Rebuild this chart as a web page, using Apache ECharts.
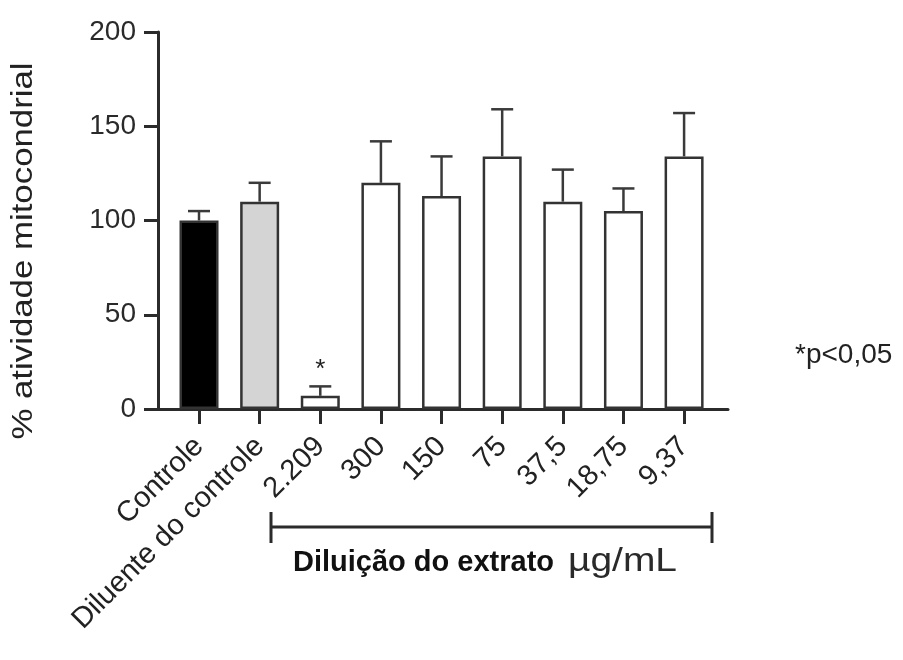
<!DOCTYPE html>
<html>
<head>
<meta charset="utf-8">
<script src="https://cdn.jsdelivr.net/npm/echarts@6/dist/echarts.min.js"></script>
<style>
  html, body { margin: 0; padding: 0; background: #ffffff; }
  #chart { width: 903px; height: 660px; }
</style>
</head>
<body>
<div id="chart"></div>
<script>
// Mitochondrial activity (%) per treatment group, mean with upper SD bar
const categories = ['Controle', 'Diluente do controle', '2.209', '300', '150', '75', '37,5', '18,75', '9,37'];
const means = [100, 110, 7, 120, 113, 134, 110, 105, 134];
const errors = [5, 10, 5, 22, 21, 25, 17, 12, 23];
const significance = ['', '', '*', '', '', '', '', '', ''];
const fillColors = ['#000000', '#d4d4d4', '#ffffff', '#ffffff', '#ffffff', '#ffffff', '#ffffff', '#ffffff', '#ffffff'];
const yTicks = [0, 50, 100, 150, 200];

const FONT = '"Liberation Sans", Arial, Helvetica, sans-serif';
const INK = '#222222';
const LINE = '#2b2b2b';

const chart = echarts.init(document.getElementById('chart'), null, { renderer: 'canvas' });

const barData = means.map((v, i) => ({
  value: v,
  itemStyle: { color: fillColors[i] }
}));

const errData = means.map((v, i) => [i, v, v + errors[i], significance[i]]);

const option = {
  backgroundColor: '#ffffff',
  animation: false,
  grid: [
    // frame grid: carries the long axis lines
    { left: 158, right: 175, top: 32, bottom: 251 },
    // data grid: the category bands
    { left: 168.7, right: 188.6, top: 32, bottom: 251 }
  ],
  xAxis: [
    {
      gridIndex: 0, type: 'value', min: 0, max: 1,
      axisLine: { show: true, lineStyle: { color: LINE, width: 3 } },
      axisTick: { show: false }, axisLabel: { show: false }, splitLine: { show: false }
    },
    {
      gridIndex: 1, type: 'category', data: categories,
      axisLine: { show: false },
      axisTick: { show: true, alignWithLabel: true, length: 15, lineStyle: { color: LINE, width: 3 } },
      axisLabel: {
        rotate: 45, fontFamily: FONT, fontSize: 29, color: INK, margin: 33, interval: 0
      },
      splitLine: { show: false }
    }
  ],
  yAxis: [
    {
      gridIndex: 0, type: 'value', min: yTicks[0], max: yTicks[yTicks.length - 1], interval: 50,
      axisLine: { show: true, lineStyle: { color: LINE, width: 3 } },
      axisTick: { show: true, length: 14, lineStyle: { color: LINE, width: 3 } },
      axisLabel: { fontFamily: FONT, fontSize: 28, color: '#2a2a2a', margin: 22 },
      splitLine: { show: false }
    },
    {
      gridIndex: 1, type: 'value', min: yTicks[0], max: yTicks[yTicks.length - 1], show: false
    }
  ],
  series: [
    {
      type: 'bar',
      xAxisIndex: 1, yAxisIndex: 1,
      data: barData,
      barWidth: 39,
      itemStyle: { borderColor: '#333333', borderWidth: 2.5 },
      z: 3
    },
    {
      type: 'custom',
      xAxisIndex: 1, yAxisIndex: 1,
      data: errData,
      z: 4,
      renderItem: function (params, api) {
        const idx = api.value(0);
        const base = api.coord([idx, api.value(1)]);
        const top = api.coord([idx, api.value(2)]);
        const mark = significance[idx];
        const capHalf = 11;
        const children = [
          { type: 'line', shape: { x1: base[0], y1: base[1], x2: top[0], y2: top[1] },
            style: { stroke: '#3a3a3a', lineWidth: 2.5 } },
          { type: 'line', shape: { x1: top[0] - capHalf, y1: top[1], x2: top[0] + capHalf, y2: top[1] },
            style: { stroke: '#3a3a3a', lineWidth: 2.5 } }
        ];
        if (mark) {
          children.push({
            type: 'text',
            style: { text: mark, x: top[0], y: top[1] - 4, align: 'center', verticalAlign: 'bottom',
                     fontFamily: FONT, fontSize: 26, fill: INK }
          });
        }
        return { type: 'group', children: children };
      }
    }
  ],
  graphic: [
    // y-axis title
    {
      type: 'text', x: 24, y: 251, rotation: Math.PI / 2, scaleX: 1.2,
      style: { text: '% atividade mitocondrial', align: 'center', verticalAlign: 'middle',
               fontFamily: FONT, fontSize: 29, fill: INK }
    },
    // bracket spanning the extract dilutions
    { type: 'line', shape: { x1: 271, y1: 527, x2: 712, y2: 527 }, style: { stroke: LINE, lineWidth: 3 } },
    { type: 'line', shape: { x1: 271, y1: 512, x2: 271, y2: 543 }, style: { stroke: LINE, lineWidth: 3 } },
    { type: 'line', shape: { x1: 712, y1: 512, x2: 712, y2: 543 }, style: { stroke: LINE, lineWidth: 3 } },
    {
      type: 'text', x: 293, y: 563,
      style: { text: 'Diluição do extrato', verticalAlign: 'middle',
               fontFamily: FONT, fontSize: 29, fontWeight: 'bold', fill: '#111111' }
    },
    {
      type: 'text', x: 568, y: 562, scaleX: 1.18,
      style: { text: 'µg/mL', verticalAlign: 'middle', fontFamily: FONT, fontSize: 33, fill: '#2a2a2a' }
    },
    {
      type: 'text', x: 795, y: 355,
      style: { text: '*p<0,05', verticalAlign: 'middle', fontFamily: FONT, fontSize: 28, fill: INK }
    }
  ]
};

chart.setOption(option);
</script>
</body>
</html>
